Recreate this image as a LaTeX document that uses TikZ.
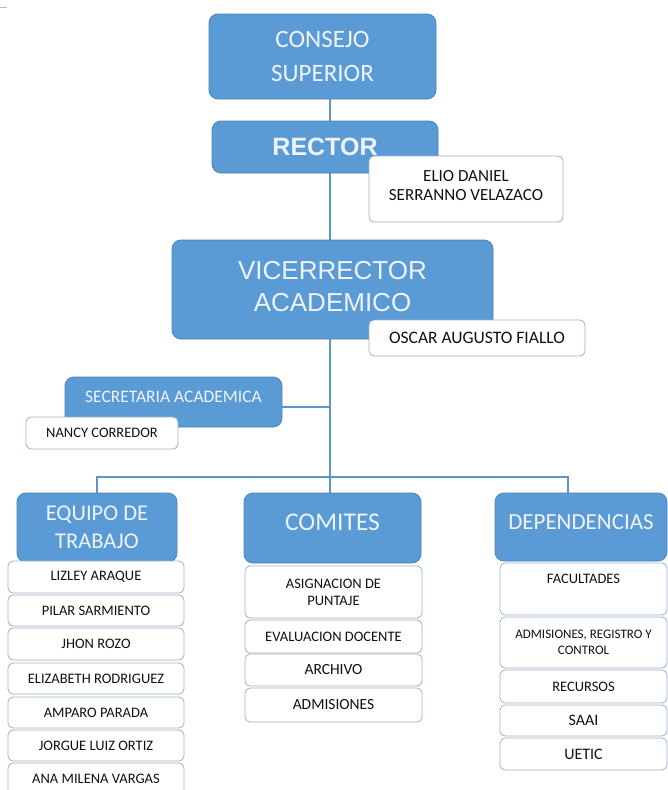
\documentclass[tikz,border=0pt]{standalone}
\usepackage{fontspec}
\setmainfont{Carlito}
\newfontfamily\arialfont{Liberation Sans}
\usetikzlibrary{backgrounds}
\definecolor{fillblue}{HTML}{5B9BD5}
\definecolor{bordblue}{HTML}{4A84BE}
\definecolor{linkblue}{HTML}{5B95D0}
\definecolor{bordgray}{HTML}{9DB0C4}
\definecolor{textlight}{HTML}{EEF3FA}
\definecolor{textdark}{HTML}{111111}
\begin{document}
\begin{tikzpicture}[x=1pt,y=-1pt,
  boxblue/.style={draw=bordblue, line width=0.8pt, fill=fillblue, rounded corners=9pt,
    text=textlight, inner sep=0pt, align=center},
  boxwhite/.style={draw=bordgray, line width=0.8pt, fill=white, rounded corners=5pt,
    text=textdark, inner sep=0pt, align=center},
  item/.style={boxwhite, font=\fontsize{14.5}{17}\selectfont},
  conn/.style={draw=linkblue, line width=2pt}]
\useasboundingbox (0,0) rectangle (668,790);
\clip (0,0) rectangle (668,790);

% upper hierarchy
\node[boxblue, minimum width=227pt, minimum height=85pt, font=\fontsize{25}{34}\selectfont]
  (consejo) at (322.5,56.5) {CONSEJO\\SUPERIOR};
\node[boxblue, minimum width=226pt, minimum height=52pt, font=\arialfont\bfseries\fontsize{25}{30}\selectfont]
  (rector) at (325,147) {RECTOR};
\node[boxwhite, minimum width=194pt, minimum height=66pt, font=\fontsize{17}{19}\selectfont, text depth=8pt]
  (elio) at (466,189) {ELIO DANIEL\\SERRANNO VELAZACO};
\node[boxblue, minimum width=321pt, minimum height=99pt, font=\arialfont\fontsize{26}{32}\selectfont, text depth=6pt]
  (vice) at (332.5,289.5) {VICERRECTOR\\ACADEMICO};
\node[boxwhite, minimum width=216pt, minimum height=36pt, font=\fontsize{17.5}{20}\selectfont]
  (oscar) at (477,338) {OSCAR AUGUSTO FIALLO};
\node[boxblue, minimum width=217pt, minimum height=50pt, font=\fontsize{17.5}{20}\selectfont, text depth=11pt]
  (secre) at (173.5,402) {SECRETARIA ACADEMICA};
\node[boxwhite, minimum width=152pt, minimum height=32pt, font=\fontsize{14.5}{17}\selectfont]
  (nancy) at (102,433) {NANCY CORREDOR};

% three branches
\node[boxblue, minimum width=160pt, minimum height=69pt, font=\fontsize{22.5}{28}\selectfont]
  (equipo) at (97,527.5) {EQUIPO DE\\TRABAJO};
\node[boxblue, minimum width=177pt, minimum height=70pt, font=\fontsize{25.5}{30}\selectfont, text depth=12pt]
  (comites) at (332.5,528) {COMITES};
\node[boxblue, minimum width=172pt, minimum height=68pt, font=\fontsize{23}{28}\selectfont, text depth=10pt]
  (depend) at (581,527) {DEPENDENCIAS};

% equipo de trabajo
\node[item, minimum width=176pt, minimum height=32pt] (e1) at (96,577) {LIZLEY ARAQUE};
\node[item, minimum width=176pt, minimum height=31pt] (e2) at (96,610.5) {PILAR SARMIENTO};
\node[item, minimum width=176pt, minimum height=32pt] (e3) at (96,644) {JHON ROZO};
\node[item, minimum width=176pt, minimum height=31pt] (e4) at (96,678.5) {ELIZABETH RODRIGUEZ};
\node[item, minimum width=176pt, minimum height=31pt] (e5) at (96,712.5) {AMPARO PARADA};
\node[item, minimum width=176pt, minimum height=31pt] (e6) at (96,745.5) {JORGUE LUIZ ORTIZ};
\node[item, minimum width=176pt, minimum height=32pt] (e7) at (96,779) {ANA MILENA VARGAS};

% comites
\node[item, minimum width=177pt, minimum height=52pt] (c1) at (333.5,592) {ASIGNACION DE\\PUNTAJE};
\node[item, minimum width=177pt, minimum height=33pt] (c2) at (333.5,636.5) {EVALUACION DOCENTE};
\node[item, minimum width=177pt, minimum height=32pt, font=\fontsize{15.5}{18}\selectfont] (c3) at (333.5,670) {ARCHIVO};
\node[item, minimum width=177pt, minimum height=34pt, font=\fontsize{15.5}{18}\selectfont] (c4) at (333.5,705) {ADMISIONES};

% dependencias
\node[item, minimum width=167pt, minimum height=52pt, text depth=20pt] (d1) at (583.5,589) {FACULTADES};
\node[item, minimum width=167pt, minimum height=51pt, font=\fontsize{13}{16}\selectfont] (d2) at (583.5,642.5) {ADMISIONES, REGISTRO Y\\CONTROL};
\node[item, minimum width=167pt, minimum height=33pt] (d3) at (583.5,686.5) {RECURSOS};
\node[item, minimum width=167pt, minimum height=31pt, font=\fontsize{16}{18}\selectfont] (d4) at (583.5,720.5) {SAAI};
\node[item, minimum width=167pt, minimum height=32pt, font=\fontsize{16}{18}\selectfont] (d5) at (583.5,754) {UETIC};

% connectors, drawn behind the boxes
\coordinate (spine) at (330,0);
\coordinate (sjoin) at (330,407);
\coordinate (barL) at (97,477);
\coordinate (barR) at (568,477);
\begin{scope}[on background layer]
  \fill[white] (0,0) rectangle (668,790);
  \draw[gray!55, line width=0.6pt] (0,7) -- (7,7);
  \draw[conn] (consejo.south -| spine) -- (rector.north -| spine);
  \draw[conn] (rector.south -| spine) -- (vice.north -| spine);
  \draw[conn] (vice.south -| spine) -- (comites.north -| spine);
  \draw[conn] ([yshift=-5pt]secre.east) -- (sjoin);
  \draw[conn] (equipo.north -| barL) -- (barL) -- (barR) -- (depend.north -| barR);
\end{scope}
\end{tikzpicture}
\end{document}
